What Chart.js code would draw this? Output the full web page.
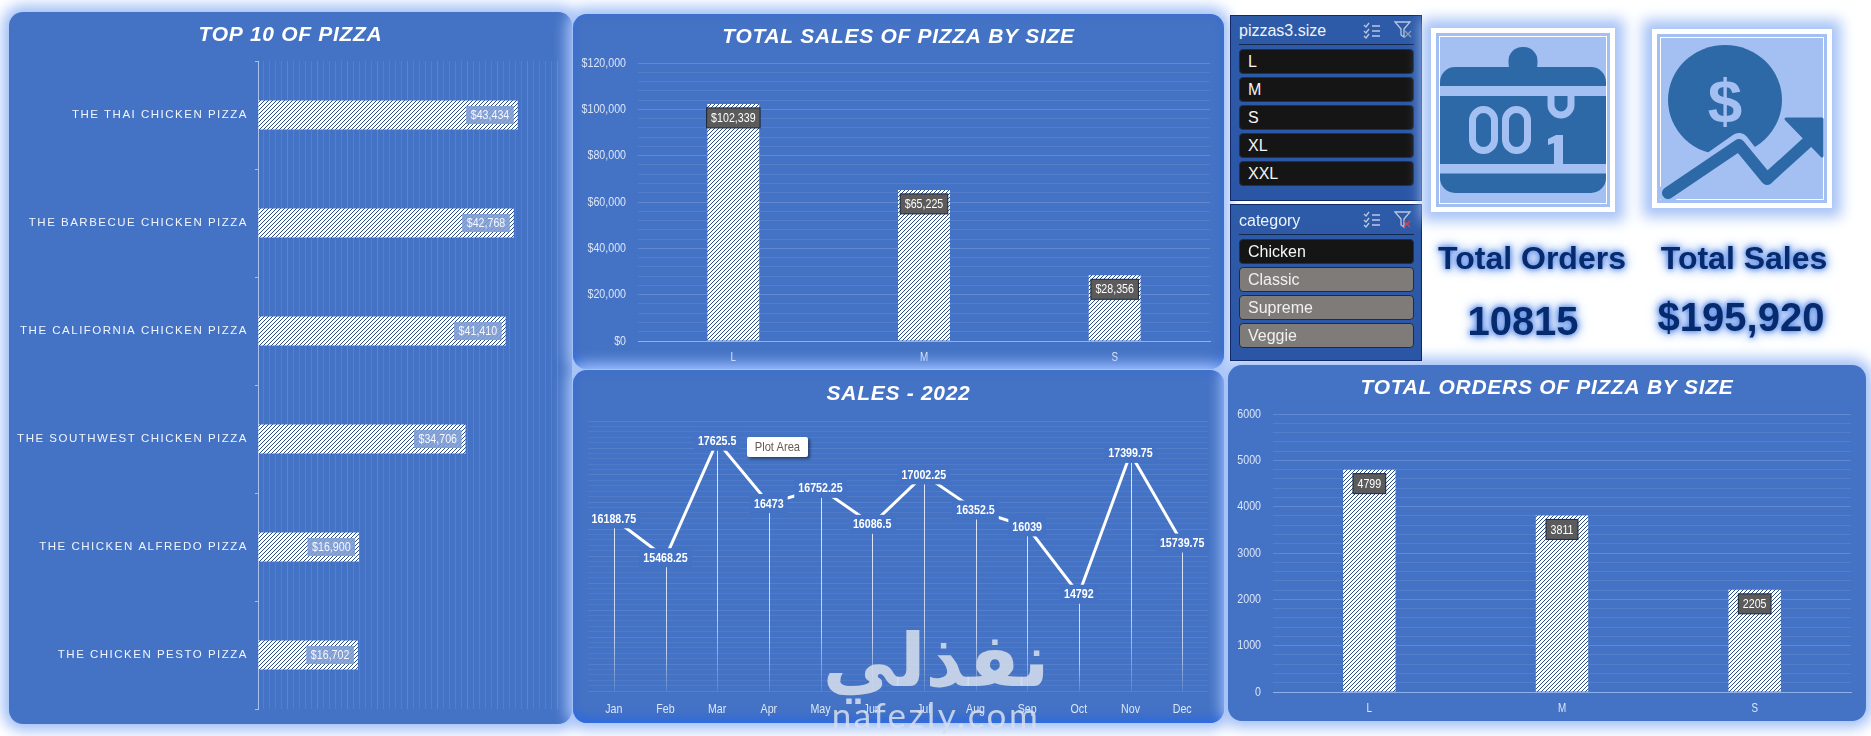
<!DOCTYPE html>
<html lang="en">
<head>
<meta charset="utf-8">
<title>Pizza dashboard</title>
<script src="https://cdn.jsdelivr.net/npm/chart.js@4/dist/chart.umd.min.js"></script>
<style>
html,body{margin:0;padding:0;background:#fff}
body{position:relative;width:1871px;height:736px;overflow:hidden;font-family:"Liberation Sans",Arial,sans-serif}
.panel{position:absolute;background:#4472c4;border-radius:14px;box-shadow:0 0 14px 7px #a3c0f7}
.panel.deep{box-shadow:0 0 14px 7px #a3c0f7,inset 0 -9px 10px -4px rgba(40,105,230,.75),inset 0 0 6px 1px rgba(50,110,230,.5)}
canvas{position:absolute;left:0;top:0;display:block}
.slicer{position:absolute;left:1230px;width:192px;background:linear-gradient(#2e5ba8,#2b56a6);border:1px solid #0f2a66;box-sizing:border-box}
.sl-title{position:absolute;left:8px;color:#eef3fb;font-size:16px;line-height:20px;white-space:nowrap}
.sl-sep{position:absolute;left:8px;width:175px;height:1px;background:#12284f}
.sl-item{position:absolute;left:8px;width:175px;height:25px;box-sizing:border-box;border-radius:4px;border:1px solid #17305f;color:#f5f5f5;font-size:16px;line-height:23px;padding-left:8px;background:#151515}
.sl-item.off{background:#7f7b79;border-color:#1d2c45;color:#f0f0f0}
.frame{position:absolute;background:#a4c0f2;border:5px solid #fff;outline:1.5px solid #fff;outline-offset:-9px;box-shadow:0 0 13px 9px #a7c3f6;box-sizing:border-box}
.kpi{position:absolute;font-weight:700;color:#062a6c;white-space:nowrap;transform:translate(-50%,-50%);text-shadow:0 0 5px #5587e4,0 0 9px #6f9bea,0 0 13px #7da5ee}
.tip{position:absolute;left:747px;top:437px;width:61px;height:20px;background:#fff;border-radius:2px;box-shadow:2px 2px 3px rgba(0,0,0,.45);color:#6a5a50;font:13px "Liberation Sans",sans-serif;line-height:20px;text-align:center}
.tip span{display:inline-block;transform:scaleX(.86)}
.wm{position:absolute;color:rgba(214,222,236,.86);white-space:nowrap;transform:translate(-50%,-50%)}
svg.ov{position:absolute;left:0;top:0;pointer-events:none}
</style>
</head>
<body>
<div class="panel" style="left:9px;top:12px;width:563px;height:712px"><canvas id="cTop"></canvas></div>
<div class="panel deep" style="left:573px;top:14px;width:651px;height:355px"><canvas id="cSales"></canvas></div>
<div class="panel deep" style="left:573px;top:370px;width:651px;height:353px"><canvas id="cYear"></canvas></div>
<div class="panel" style="left:1228px;top:365px;width:638px;height:356px"><canvas id="cOrders"></canvas></div>

<div class="slicer" style="top:15px;height:186px">
  <div class="sl-title" style="top:5px">pizzas3.size</div><div class="sl-sep" style="top:28px"></div>
  <div class="sl-item" style="top:33px">L</div><div class="sl-item" style="top:61px">M</div><div class="sl-item" style="top:89px">S</div><div class="sl-item" style="top:117px">XL</div><div class="sl-item" style="top:145px">XXL</div>
</div>
<div class="slicer" style="top:204px;height:157px">
  <div class="sl-title" style="top:6px">category</div><div class="sl-sep" style="top:29px"></div>
  <div class="sl-item" style="top:34px">Chicken</div><div class="sl-item off" style="top:62px">Classic</div><div class="sl-item off" style="top:90px">Supreme</div><div class="sl-item off" style="top:118px">Veggie</div>
</div>

<div class="frame" style="left:1431px;top:28px;width:184px;height:184px"></div>
<div class="frame" style="left:1652px;top:29px;width:180px;height:179px"></div>

<svg class="ov" width="1871" height="736" viewBox="0 0 1871 736">
  <g fill="none" stroke="#b9c8e2" stroke-width="1.3">
    <path d="M1364 25l2 2 3-4M1364 31l2 2 3-4M1364 36l2 2 3-4M1372 26h8M1372 31h8M1372 36h8"/>
    <path d="M1395 22h15l-6 7v8l-3-2v-6z"/><path d="M1405 31l6 6M1411 31l-6 6" stroke="#8f9db5"/>
    <path d="M1364 214l2 2 3-4M1364 220l2 2 3-4M1364 225l2 2 3-4M1372 215h8M1372 220h8M1372 225h8"/>
    <path d="M1395 212h15l-6 7v8l-3-2v-6z"/><path d="M1404 221l6 6M1410 221l-6 6" stroke="#e0404a"/>
  </g>
  <g fill="#2d69a6">
    <rect x="1508.5" y="47" width="29" height="30" rx="14"/>
    <rect x="1440" y="67" width="166" height="126" rx="15"/>
  </g>
  <g fill="#a4c0f2">
    <rect x="1440" y="86" width="166" height="10"/><rect x="1440" y="164" width="166" height="9.5"/>
  </g>
  <g fill="none" stroke="#a4c0f2" stroke-width="7">
    <rect x="1472.500" y="109.500" width="22" height="41" rx="11"/><rect x="1505.500" y="109.500" width="22" height="41" rx="11"/>
    <path d="M1551 96v9a10 10 0 0 0 20 0v-9"/>
  </g>
  <path d="M1548 139l8-4h7v29h-9v-21l-6 2z" fill="#a4c0f2"/>
  <ellipse cx="1725" cy="100" rx="57" ry="55" fill="#2d69a6"/>
  <text x="1725" y="122" text-anchor="middle" font-family="Liberation Sans" font-weight="700" font-size="62" fill="#a4c0f2">$</text>
  <path d="M1668 193l71-50 28 36 44-40" fill="none" stroke="#a4c0f2" stroke-width="20" stroke-linejoin="round" stroke-linecap="round"/>
  <path d="M1668 193l71-48 28 34 44-40" fill="none" stroke="#2d69a6" stroke-width="12" stroke-linejoin="round" stroke-linecap="round"/>
  <path d="M1786 119h36v37z" fill="#2d69a6" stroke="#2d69a6" stroke-width="3" stroke-linejoin="round"/>
</svg>

<div class="kpi" style="left:1532px;top:258px;font-size:32px">Total Orders</div>
<div class="kpi" style="left:1744px;top:258px;font-size:32px">Total Sales</div>
<div class="kpi" style="left:1523px;top:321px;font-size:40px">10815</div>
<div class="kpi" style="left:1741px;top:317px;font-size:40px">$195,920</div>

<div class="tip"><span>Plot Area</span></div>
<div class="wm" style="left:936px;top:660px;font:700 74px 'DejaVu Sans',sans-serif" dir="rtl" lang="ar">نفذلي</div>
<div class="wm" style="left:936px;top:714px;font:400 35px Lato,sans-serif;letter-spacing:2.5px">nafezly.com</div>

<script>
const pizzaNames = ["THE THAI CHICKEN PIZZA","THE BARBECUE CHICKEN PIZZA","THE CALIFORNIA CHICKEN PIZZA","THE SOUTHWEST CHICKEN PIZZA","THE CHICKEN ALFREDO PIZZA","THE CHICKEN PESTO PIZZA"];
const pizzaSales = [43434,42768,41410,34706,16900,16702];
const sizes = ["L","M","S"];
const sizeSales = [102339,65225,28356];
const sizeOrders = [4799,3811,2205];
const months = ["Jan","Feb","Mar","Apr","May","Jun","Jul","Aug","Sep","Oct","Nov","Dec"];
const monthSales = [16188.75,15468.25,17625.5,16473,16752.25,16086.5,17002.25,16352.5,16039,14792,17399.75,15739.75];

const SANS = '"Liberation Sans",sans-serif';
const SQUEEZE = .82;            /* the reference's condensed face, from a regular one */
const AXIS = '#dbe6f8';
Chart.defaults.animation = false;
Chart.defaults.responsive = false;
Chart.defaults.devicePixelRatio = 1;
Chart.defaults.plugins.legend.display = false;
Chart.defaults.plugins.tooltip.enabled = false;

function hatch(){
  const t = document.createElement('canvas'); t.width = t.height = 4;
  const g = t.getContext('2d');
  g.fillStyle = '#fff'; g.fillRect(0,0,4,4);
  g.strokeStyle = '#2e4f86'; g.lineWidth = 1;
  g.beginPath(); g.moveTo(-1,5); g.lineTo(5,-1); g.moveTo(-1,1); g.lineTo(1,-1); g.moveTo(3,5); g.lineTo(5,3); g.stroke();
  return g.createPattern(t,'repeat');
}

/* title and axis label drawing: letter spacing, title centred on the panel, optional condensing */
function textStyle(titleGap, shift, axes){
  return {id:'textStyle', beforeDraw(c){
    const t = c.titleBlock;
    if(t && !t._sp){ const d = t.draw;
      t.draw = function(){ const x = c.ctx; x.save(); x.translate(shift,0); x.letterSpacing = titleGap; d.call(t); x.restore(); };
      t._sp = 1; }
    Object.keys(axes).forEach(k=>{ const s = c.scales[k], a = axes[k];
      if(!s._sp){ const d = s.drawLabels;
        s._computeLabelArea = () => undefined;
        s.drawLabels = function(area){
          const x = c.ctx; x.save();
          if(a.gap) x.letterSpacing = a.gap;
          if(a.sx){ x.scale(a.sx,1);
            s.getLabelItems(area).forEach(it=>{ if(!it._sq){ it.options.translation[0] /= a.sx; it._sq = 1; } }); }
          d.call(s,area); x.restore();
        }; s._sp = 1; } });
  }};
}

function squeezedText(ctx,s,x,y){ ctx.save(); ctx.translate(x,y); ctx.scale(SQUEEZE,1); ctx.fillText(s,0,0); ctx.restore(); }

/* data labels placed from each bar element */
function barLabels(fmt, style){
  return {id:'barLabels', afterDatasetsDraw(c){
    const ctx = c.ctx, bars = c.getDatasetMeta(0).data, vals = c.data.datasets[0].data;
    ctx.save(); ctx.font = style.font; ctx.textBaseline = 'middle'; ctx.textAlign = 'center';
    bars.forEach((b,i)=>{
      const s = fmt(vals[i]), w = ctx.measureText(s).width*SQUEEZE + style.pad * 2, h = style.h;
      const horizontal = c.options.indexAxis === 'y';
      const x = horizontal ? b.x - style.inset - w : b.x - w/2;
      const y = horizontal ? b.y - h/2 : b.y + style.inset;
      ctx.fillStyle = style.fill; ctx.fillRect(x,y,w,h);
      if(style.stroke){ ctx.strokeStyle = style.stroke; ctx.lineWidth = 1; ctx.strokeRect(x,y,w,h); }
      ctx.fillStyle = style.color; squeezedText(ctx,s,x + w/2,y + h/2 + .5);
    });
    ctx.restore();
  }};
}

const usd = v => '$' + v.toLocaleString('en-US');
const DARK = {font:'13px '+SANS, pad:4.5, h:20, inset:4, fill:'#5b5b5b', stroke:'#1d2533', color:'#fff'};

function frame(id, panel, plot, titleText, titleY, config, axes){
  const cv = document.getElementById(id);
  cv.width = panel.r - panel.l; cv.height = panel.b - panel.t;
  const fs = 21, half = fs * 1.2 / 2, ty = titleY + 2, right = panel.r - plot.r;
  config.options.layout = {padding:{left:0,right:right,top:0,bottom:0}};
  config.options.plugins = {title:{display:true,text:titleText,color:'#fff',
      font:{family:'"Liberation Sans"',size:fs,weight:'bold',style:'italic',lineHeight:1.2},
      padding:{top:ty - panel.t - half,bottom:plot.t - ty - half}}};
  const sc = config.options.scales;
  sc.y.afterFit = s => { s.width = plot.l - panel.l; };
  sc.x.afterFit = s => { s.height = panel.b - plot.b; };
  config.plugins = (config.plugins||[]).concat([textStyle('0.7px', right/2, axes)]);
  return new Chart(cv, config);
}

/* ---- Top pizzas ---- */
frame('cTop',{l:9,t:12,r:572,b:724},{l:258,t:61,r:557,b:709},'TOP 10 OF PIZZA',33,{
  type:'bar',
  data:{labels:pizzaNames,datasets:[{data:pizzaSales,backgroundColor:hatch(),barPercentage:.27,categoryPercentage:1,borderWidth:0}]},
  options:{indexAxis:'y',scales:{
    x:{min:0,max:50000,ticks:{stepSize:1000,display:false,autoSkip:false},
       grid:{drawTicks:false,color:c=>c.tick && c.tick.value%5000===0?'rgba(255,255,255,.13)':'rgba(255,255,255,.09)'},border:{display:false}},
    y:{ticks:{color:'#f1f5fd',font:{family:'"Liberation Sans"',size:11.5},padding:7,autoSkip:false},
       grid:{drawOnChartArea:false,tickLength:3,color:'rgba(190,210,245,.8)',offset:true},border:{color:'rgba(190,210,245,.8)'}}
  }},
  plugins:[barLabels(usd,{font:'13px '+SANS,pad:4.5,h:18,inset:4,fill:'rgba(125,155,212,.9)',color:'#f4f7fd'})]
},{y:{gap:'1.5px'}});

/* ---- Sales and orders by size ---- */
function sizeChart(id,panel,plot,title,titleY,vals,max,minor,major,fmt,tickFmt){
  return frame(id,panel,plot,title,titleY,{
    type:'bar',
    data:{labels:sizes,datasets:[{data:vals,backgroundColor:hatch(),barPercentage:.272,categoryPercentage:1,borderWidth:0}]},
    options:{scales:{
      x:{ticks:{color:AXIS,font:{family:SANS,size:12},padding:1},grid:{display:false},border:{color:'#8fb0e8'}},
      y:{min:0,max:max,ticks:{stepSize:minor,autoSkip:false,color:AXIS,font:{family:SANS,size:13},padding:12,
            callback:v=>v%major===0?tickFmt(v):''},
         grid:{drawTicks:false,color:c=>c.tick&&c.tick.value%major===0?'rgba(190,212,250,.24)':'rgba(190,212,250,.13)'},border:{display:false}}
    }},
    plugins:[barLabels(fmt,DARK)]
  },{y:{sx:SQUEEZE},x:{sx:SQUEEZE}});
}
sizeChart('cSales',{l:573,t:14,r:1224,b:369},{l:638,t:63,r:1210,b:341},'TOTAL SALES OF PIZZA BY SIZE',35,sizeSales,120000,4000,20000,usd,usd);
sizeChart('cOrders',{l:1228,t:365,r:1866,b:721},{l:1273,t:414,r:1851,b:692},'TOTAL ORDERS OF PIZZA BY SIZE',386,sizeOrders,6000,200,1000,v=>String(v),v=>String(v));

/* ---- Monthly sales ---- */
const dropLines = {id:'dropLines', beforeDatasetsDraw(c){
  const ctx = c.ctx, pts = c.getDatasetMeta(0).data, bot = c.scales.y.bottom;
  ctx.save(); ctx.lineWidth = 1;
  pts.forEach(p=>{
    const g = ctx.createLinearGradient(0,p.y,0,bot);
    g.addColorStop(0,'rgba(255,255,255,.85)'); g.addColorStop(.7,'rgba(255,255,255,.65)'); g.addColorStop(1,'rgba(255,255,255,.12)');
    ctx.strokeStyle = g; ctx.beginPath(); ctx.moveTo(Math.round(p.x)+.5,p.y); ctx.lineTo(Math.round(p.x)+.5,bot); ctx.stroke();
  });
  ctx.restore();
}};
const pointLabels = {id:'pointLabels', afterDatasetsDraw(c){
  const ctx = c.ctx, pts = c.getDatasetMeta(0).data, vals = c.data.datasets[0].data;
  ctx.save(); ctx.font = '700 13px '+SANS; ctx.textAlign='center'; ctx.textBaseline='middle';
  pts.forEach((p,i)=>{
    const s = String(vals[i]), w = ctx.measureText(s).width*SQUEEZE + 8;
    ctx.fillStyle = '#4472c4'; ctx.fillRect(p.x-w/2,p.y-9.5,w,19);
    ctx.fillStyle = '#fff'; squeezedText(ctx,s,p.x,p.y+.5);
  });
  ctx.restore();
}};
frame('cYear',{l:573,t:370,r:1224,b:723},{l:588,t:421,r:1208,b:691},'SALES - 2022',392,{
  type:'line',
  data:{labels:months,datasets:[{data:monthSales,borderColor:'#fff',borderWidth:3,pointRadius:0,tension:0,clip:false}]},
  options:{scales:{
    x:{offset:true,ticks:{color:AXIS,font:{family:SANS,size:13},padding:3,autoSkip:false,maxRotation:0},grid:{display:false},border:{display:false}},
    y:{min:13000,max:18000,ticks:{stepSize:100,display:false,autoSkip:false},
       grid:{drawTicks:false,color:c=>c.tick&&c.tick.value%500===0?'rgba(200,220,250,.13)':'rgba(200,220,250,.08)'},border:{display:false}}
  }},
  plugins:[dropLines,pointLabels]
},{x:{sx:SQUEEZE}});
</script>
</body>
</html>
